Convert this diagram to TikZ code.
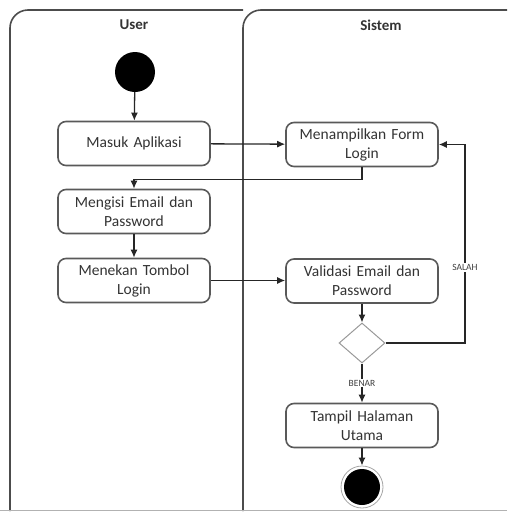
\documentclass[tikz,border=0pt]{standalone}
\usepackage{fontspec}
\setmainfont{Carlito}
\usetikzlibrary{arrows.meta,shapes.geometric}
\begin{document}
\begin{tikzpicture}[x=1pt,y=-1pt,
  lane/.style={draw=black!70,line width=1.6pt},
  actbox/.style={draw=black!65,line width=1.6pt,rounded corners=8pt,minimum width=152pt,minimum height=44pt,text width=145pt,align=center,inner sep=0pt,font=\fontsize{15.5}{19}\selectfont,text=black!80},
  flow/.style={draw=black!85,line width=1.3pt,-{Latex[length=8pt,width=7pt]}},
  lanetitle/.style={font=\fontsize{15}{18}\selectfont\bfseries,text=black!80},
  guard/.style={font=\fontsize{9.5}{11}\selectfont,text=black!75,fill=white,inner sep=1pt}]
\useasboundingbox (0,0) rectangle (507,512);
\begin{scope}
\clip (0,0) rectangle (507,512);
\draw[lane,rounded corners=18pt] (10,511) -- (10,10) -- (243,10);
\draw[lane,rounded corners=18pt] (243,511) -- (243,10) -- (520,10);
\draw[black!30,line width=0.8pt] (0,510.5) -- (507,510.5);
\end{scope}
\node[lanetitle] (tuser) at (134,25) {User};
\node[lanetitle] (tsis) at (381,25) {Sistem};
\node[circle,fill=black,minimum size=40pt,inner sep=0pt] (start) at (135,72) {};
\node[actbox] (masuk) at (134,143.5) {Masuk Aplikasi};
\node[actbox] (form) at (362,144.5) {Menampilkan Form\\Login};
\node[actbox] (isi) at (134,211.5) {Mengisi Email dan\\Password};
\node[actbox] (tekan) at (134,280.5) {Menekan Tombol\\Login};
\node[actbox] (valid) at (362,281) {Validasi Email dan\\Password};
\node[diamond,draw=black!40,line width=1pt,minimum width=46pt,minimum height=40pt,inner sep=0pt] (dec) at (362,343) {};
\node[actbox] (utama) at (362,425.5) {Tampil Halaman\\Utama};
\node[circle,draw=black!35,line width=0.8pt,minimum size=42pt,inner sep=0pt] (endring) at (362,487) {};
\node[circle,fill=black,minimum size=36pt,inner sep=0pt] (end) at (362,487) {};
\coordinate (salahc) at (465,343);
\draw[flow] (start) -- (masuk);
\draw[flow] (masuk) -- (form);
\draw[flow] (form.south) -- ++(0,12) -| (isi.north);
\draw[flow] (isi) -- (tekan);
\draw[flow] (tekan.east) -- (tekan.east -| valid.west);
\draw[flow] (valid) -- (dec);
\draw[flow] (dec.east) -- (salahc) |- (form.east) node[pos=0.19,guard] {SALAH};
\draw[flow] (dec) -- (utama) node[midway,guard] {BENAR};
\draw[flow] (utama) -- (endring);
\end{tikzpicture}
\end{document}
